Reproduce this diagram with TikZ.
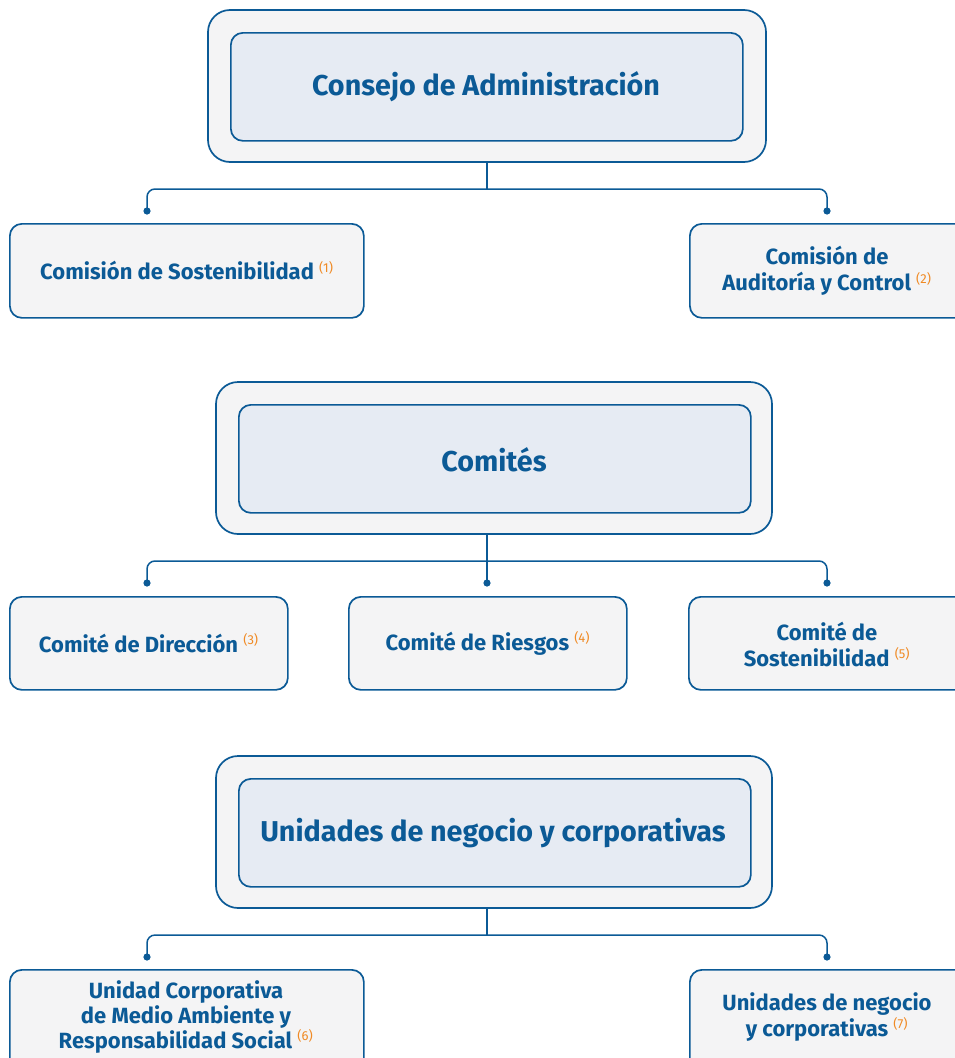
\documentclass[tikz,border=0pt]{standalone}
\usepackage{fontspec}
\setmainfont{Fira Sans}
\definecolor{dblue}{HTML}{0B5A96}
\definecolor{lblue}{HTML}{E6EBF3}
\definecolor{lgray}{HTML}{F4F4F5}
\definecolor{orng}{HTML}{F08A24}
\newcommand{\sref}[1]{\textsuperscript{\color{orng}\fontsize{13}{13}\selectfont\mdseries(#1)}}
\tikzset{
  outerbox/.style={draw=dblue, line width=1.7pt, fill=lgray, rounded corners=22pt},
  innerbox/.style={draw=dblue, line width=1.7pt, fill=lblue, rounded corners=12pt},
  childbox/.style={draw=dblue, line width=1.7pt, fill=lgray, rounded corners=12pt},
  ttext/.style={text=dblue, font=\fontsize{28.7}{34}\selectfont\bfseries, align=center},
  ctext/.style={text=dblue, font=\fontsize{22}{26}\selectfont\bfseries, align=center},
  conn/.style={draw=dblue, line width=1.5pt, rounded corners=8pt},
  dotc/.style={fill=dblue, draw=none}
}
\begin{document}
\begin{tikzpicture}[x=1pt,y=-1pt]
\useasboundingbox (0,0) rectangle (955,1058);
\clip (0,0) rectangle (955,1058);
% ---- Level 1
\path[outerbox] (208,10) rectangle (766,162);
\node[innerbox, minimum width=512pt, minimum height=108pt, anchor=north west] (cons) at (230,32) {};
\node[ttext] (consT) at (486,87) {Consejo de Administración};
\coordinate (s1) at (487,162);
\coordinate (j1) at (487,189);
\coordinate (d1a) at (147,211);
\coordinate (d1b) at (827,211);
\draw[conn] (s1) -- (j1);
\draw[conn] (j1) -| (d1a);
\draw[conn] (j1) -| (d1b);
\fill[dotc] (d1a) circle (3.6pt);
\fill[dotc] (d1b) circle (3.6pt);
\node[childbox, minimum width=354pt, minimum height=94pt, anchor=north west] (c1) at (9,223) {};
\node[ctext] at (c1.center) {Comisión de Sostenibilidad~\sref{1}};
\node[childbox, minimum width=280pt, minimum height=94pt, anchor=north west] (c2) at (689,223) {};
\node[ctext] at (827,271) {Comisión de\\Auditoría y Control~\sref{2}};
% ---- Level 2
\path[outerbox] (216,382) rectangle (772,534);
\node[innerbox, minimum width=512pt, minimum height=108pt, anchor=north west] (com) at (238,404) {};
\node[ttext] (comT) at (494,460) {Comités};
\coordinate (s2) at (487,534);
\coordinate (j2) at (487,561);
\coordinate (d2a) at (147,583);
\coordinate (d2b) at (487,583);
\coordinate (d2c) at (827,583);
\draw[conn] (s2) -- (d2b);
\draw[conn] (j2) -| (d2a);
\draw[conn] (j2) -| (d2c);
\fill[dotc] (d2a) circle (3.6pt);
\fill[dotc] (d2b) circle (3.6pt);
\fill[dotc] (d2c) circle (3.6pt);
\node[childbox, minimum width=278pt, minimum height=93pt, anchor=north west] (c3) at (9,596) {};
\node[ctext] at (c3.center) {Comité de Dirección~\sref{3}};
\node[childbox, minimum width=278pt, minimum height=93pt, anchor=north west] (c4) at (348,596) {};
\node[ctext] at (c4.center) {Comité de Riesgos~\sref{4}};
\node[childbox, minimum width=280pt, minimum height=93pt, anchor=north west] (c5) at (688,596) {};
\node[ctext] at (827,644) {Comité de\\Sostenibilidad~\sref{5}};
% ---- Level 3
\path[outerbox] (216,756) rectangle (772,908);
\node[innerbox, minimum width=512pt, minimum height=108pt, anchor=north west] (uni) at (238,778) {};
\node[ttext] (uniT) at (493,833) {Unidades de negocio y corporativas};
\coordinate (s3) at (487,908);
\coordinate (j3) at (487,935);
\coordinate (d3a) at (147,957);
\coordinate (d3b) at (827,957);
\draw[conn] (s3) -- (j3);
\draw[conn] (j3) -| (d3a);
\draw[conn] (j3) -| (d3b);
\fill[dotc] (d3a) circle (3.6pt);
\fill[dotc] (d3b) circle (3.6pt);
\node[childbox, minimum width=354pt, minimum height=110pt, anchor=north west] (c6) at (9,969) {};
\node[ctext, font=\fontsize{22}{25}\selectfont\bfseries] at (186,1017) {Unidad Corporativa\\de Medio Ambiente y\\Responsabilidad Social~\sref{6}};
\node[childbox, minimum width=280pt, minimum height=110pt, anchor=north west] (c7) at (689,969) {};
\node[ctext] at (827,1017) {Unidades de negocio\\y corporativas~\sref{7}};
\end{tikzpicture}
\end{document}
